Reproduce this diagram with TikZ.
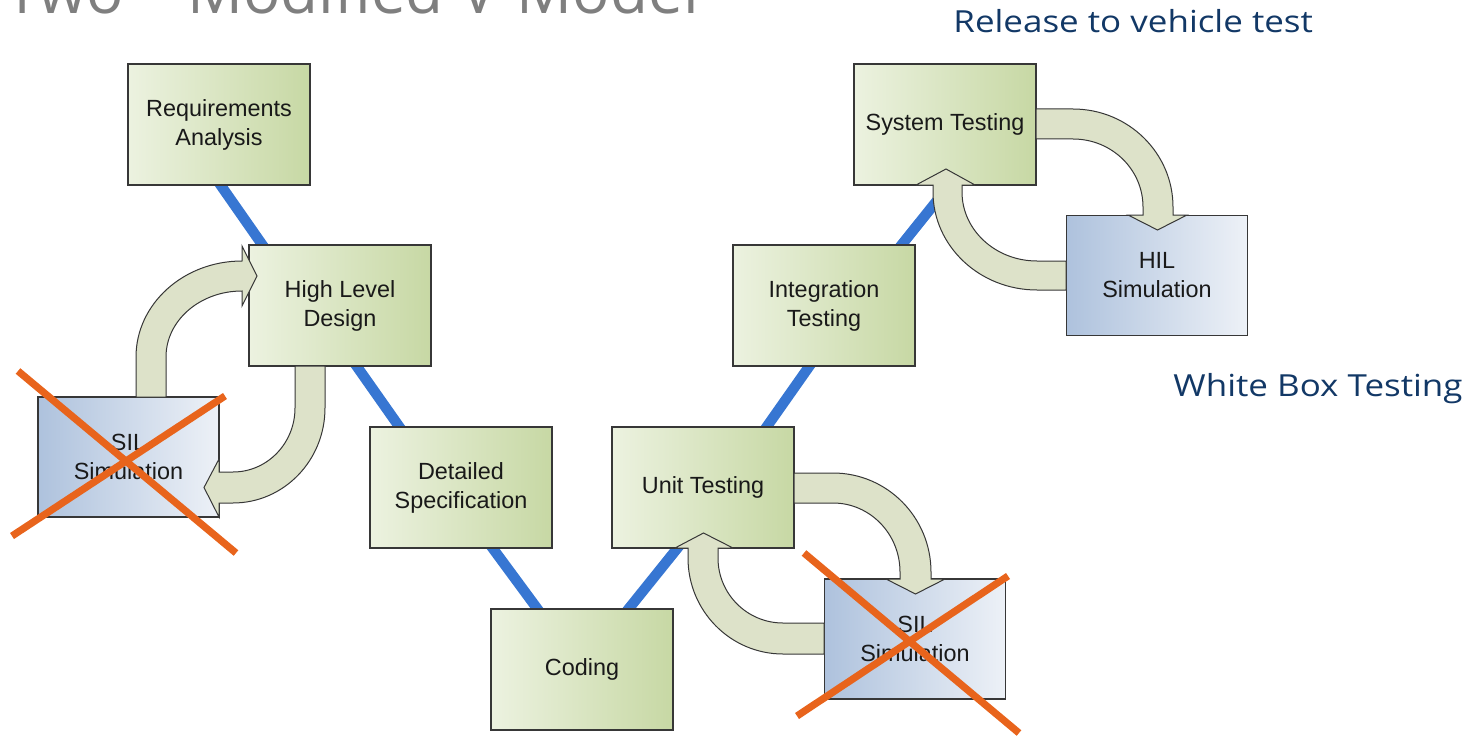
\documentclass[tikz,border=0pt]{standalone}
\usepackage{fontspec}
\setmainfont{Liberation Sans}
\newfontfamily\segoe{Open Sans}
\newfontfamily\segoewide[FakeStretch=1.15]{Open Sans}
\usetikzlibrary{calc,backgrounds}
\definecolor{vblue}{RGB}{55,118,210}
\definecolor{gleft}{RGB}{236,242,224}
\definecolor{gright}{RGB}{199,216,164}
\definecolor{bleft}{RGB}{174,194,221}
\definecolor{bright}{RGB}{237,241,247}
\definecolor{bandfill}{RGB}{221,226,201}
\definecolor{bordergray}{RGB}{55,55,55}
\definecolor{crossor}{RGB}{232,100,28}
\definecolor{navy}{RGB}{18,56,102}
\definecolor{titlegray}{RGB}{127,127,127}
\definecolor{boxtext}{RGB}{25,25,25}
\tikzset{
  stagebox/.style={draw=bordergray, line width=0.65pt, minimum width=91pt, minimum height=60.5pt,
    inner sep=0pt, align=center, text=boxtext, left color=gleft, right color=gright,
    font=\fontsize{11.7}{14.5}\selectfont},
  simbox/.style={stagebox, minimum width=90.5pt, minimum height=60pt, left color=bleft, right color=bright},
  vline/.style={draw=vblue, line width=5.2pt, shorten <=-4pt, shorten >=-4pt},
  band/.style={fill=bandfill, draw=bordergray, line width=0.5pt, line join=miter},
  cross/.style={draw=crossor, line width=3.6pt},
  note/.style={text=navy, font=\segoewide\fontsize{15.2}{18}\selectfont, inner sep=0pt}
}
\begin{document}
\begin{tikzpicture}[x=0.5pt,y=-0.5pt]
\useasboundingbox (0,0) rectangle (1477,738);
% title (cut at the top, as in the slide)
\begin{scope}
\clip (0,0) rectangle (1477,738);
\node[anchor=base west, inner sep=0pt, text=titlegray, font=\segoe\fontsize{31}{36}\selectfont] (title) at (5,14) {Two – Modified V-Model};
\end{scope}
% stage boxes
\node[stagebox] (req)   at (219,124.5) {Requirements\\Analysis};
\node[stagebox] (hld)   at (340,305.5) {High Level\\Design};
\node[stagebox] (ds)    at (461,487.5) {Detailed\\Specification};
\node[stagebox] (cod)   at (582,669.5) {Coding};
\node[stagebox] (unit)  at (703,487.5) {Unit Testing};
\node[stagebox] (integ) at (824,305.5) {Integration\\Testing};
\node[stagebox] (sys)   at (945,124.5) {System Testing};
\node[simbox]   (hil)   at (1157,275.5) {HIL\\Simulation};
\node[simbox]   (silA)  at (128.5,457) {SIL\\Simulation};
\node[simbox]   (silB)  at (915,639) {SIL\\Simulation};
% V lines
\begin{scope}[on background layer]
\draw[vline] ($(req.south)+(2,0)$) -- ($(hld.north)+(-78,0)$);
\draw[vline] ($(hld.south)+(17,0)$) -- ($(ds.north)+(-62,0)$);
\draw[vline] ($(ds.south)+(32,0)$) -- ($(cod.north)+(-45,0)$);
\draw[vline] ($(cod.north)+(47,0)$) -- ($(unit.south)+(-26,0)$);
\draw[vline] ($(unit.north)+(64,0)$) -- ($(integ.south)+(-15,0)$);
\draw[vline] ($(integ.north)+(78,0)$) -- ($(sys.south)+(4,0)$);
\end{scope}
% loop arrows: left (SIL <-> High Level Design)
\draw[band] (136,397) -- (136,357) .. controls (136,304) and (183.5,261) .. (242,261)
  -- (242,246) -- (257,276) -- (242,306) -- (242,291)
  .. controls (200,291) and (166,320.5) .. (166,357) -- (166,397) -- cycle;
\draw[band] (295,366) -- (325,366) -- (325,408) .. controls (325,460.5) and (283.8,503) .. (233,503)
  -- (219,503) -- (219,517) -- (204,487.5) -- (219,459) -- (219,472) -- (233,472)
  .. controls (267.2,472) and (295,443.3) .. (295,408) -- cycle;
% bottom (Unit Testing <-> SIL)
\draw[band] (794,473) -- (833,473) .. controls (887.1,473) and (931,517.3) .. (931,572)
  -- (931,579) -- (945,579) -- (915.5,594) -- (886,579) -- (900,579) -- (900,572)
  .. controls (900,533.9) and (870,503) .. (833,503) -- (794,503) -- cycle;
\draw[band] (824,623) -- (783,623) .. controls (747.1,623) and (718,593.9) .. (718,558)
  -- (718,548) -- (733,548) -- (703.5,533) -- (675,548) -- (688,548) -- (688,558)
  .. controls (688,611) and (730.5,654) .. (783,654) -- (824,654) -- cycle;
% top right (System Testing <-> HIL)
\draw[band] (1036,109) -- (1073,109) .. controls (1128.2,109) and (1173,152.9) .. (1173,207)
  -- (1173,215) -- (1187,215) -- (1157.5,230) -- (1128,215) -- (1143,215) -- (1143,207)
  .. controls (1143,169.4) and (1111.7,139) .. (1073,139) -- (1036,139) -- cycle;
\draw[band] (1066,261) -- (1037,261) .. controls (995.6,261) and (962,230.1) .. (962,192)
  -- (962,185) -- (975,185) -- (946,169) -- (916,185) -- (933,185) -- (933,192)
  .. controls (933,246.1) and (979.6,290) .. (1037,290) -- (1066,290) -- cycle;
% crosses
\draw[cross] (18,371) -- (236,553);
\draw[cross] (12,536) -- (225,396);
\draw[cross] (804,553) -- (1019,733);
\draw[cross] (797,716) -- (1008,576);
% notes
\node[note, anchor=base west] (rel) at (953,33) {Release to vehicle test};
\node[note, anchor=base west] (wbt) at (1173,396) {White Box Testing};
\end{tikzpicture}
\end{document}
